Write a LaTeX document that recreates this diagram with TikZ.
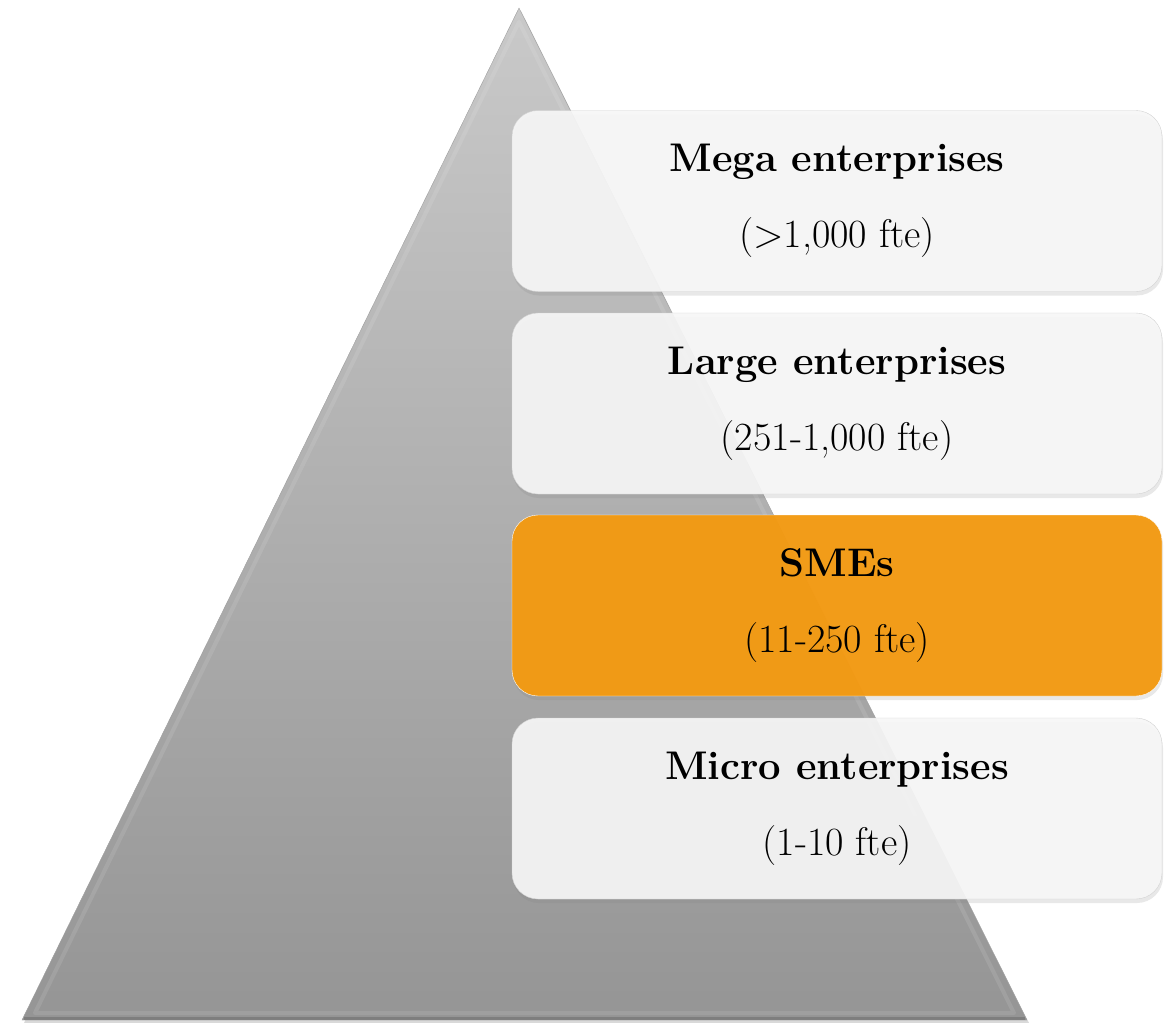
\documentclass[tikz,border=0pt]{standalone}
\usepackage{fontspec}
\usetikzlibrary{shadows}
\definecolor{tritop}{HTML}{C9C9C9}
\definecolor{tribot}{HTML}{959595}
\definecolor{tierfill}{HTML}{F6F6F6}
\definecolor{tierline}{HTML}{D2D2D2}
\definecolor{smeorange}{HTML}{F39A12}
\tikzset{
  tier/.style={draw=tierline, fill=tierfill, fill opacity=0.93, text opacity=1,
    rounded corners=26pt, minimum width=650pt, minimum height=181pt,
    align=center, font=\fontsize{40}{76}\selectfont,
    drop shadow={shadow xshift=1pt, shadow yshift=-4pt, opacity=0.18}},
  hot/.style={tier, draw=white, fill=smeorange, fill opacity=0.97}
}

\begin{document}
\begin{tikzpicture}[x=1pt, y=-1pt]
	\useasboundingbox (0,0) rectangle (1165,1023);
	% pyramid
	\draw[draw=gray!75, top color=tritop, bottom color=tribot,
		drop shadow={shadow xshift=2pt, shadow yshift=-3pt, opacity=0.3}]
		(519,8) -- (1027,1020) -- (22,1020) -- cycle;
	\draw[white, opacity=0.1, line width=4pt, line join=round]
		(519,22) -- (1014,1013) -- (35,1013) -- cycle;
	\draw[black, opacity=0.15, line width=3pt] (24,1018) -- (1025,1018);
	% tiers
	\node[tier] (mega) at (837,201) {\textbf{Mega enterprises}\\(>1,000 fte)};
	\node[tier] (large) at (837,403.5) {\textbf{Large enterprises}\\(251-1,000 fte)};
	\node[hot] (sme) at (837,605.5) {\textbf{SMEs}\\(11-250 fte)};
	\node[tier] (micro) at (837,808.5) {\textbf{Micro enterprises}\\(1-10 fte)};
\end{tikzpicture}
\end{document}
